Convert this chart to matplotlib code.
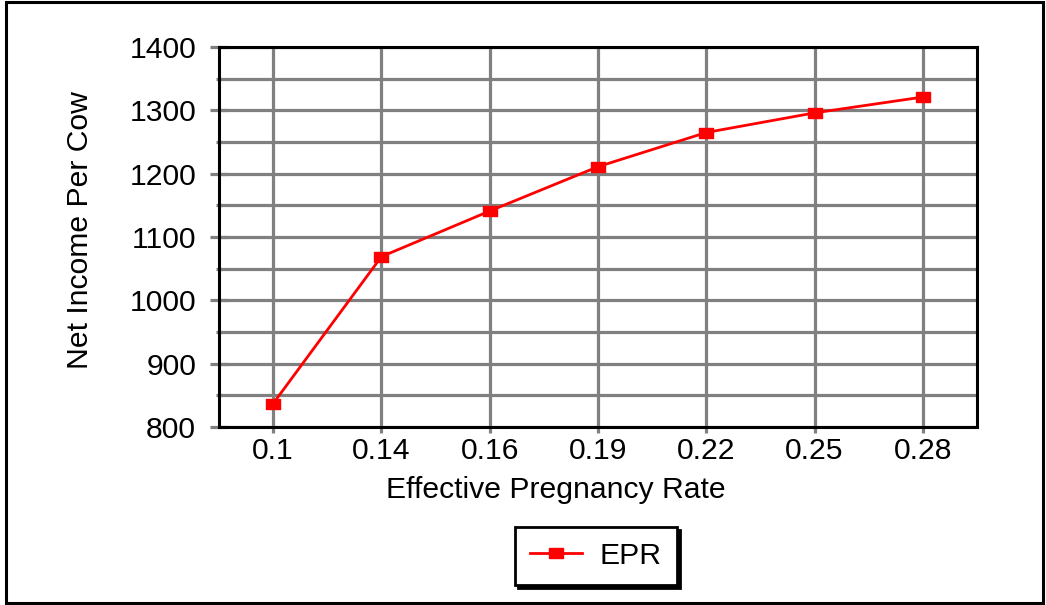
import matplotlib
matplotlib.use("Agg")
import matplotlib.pyplot as plt
from matplotlib.patches import Rectangle
from matplotlib.ticker import MultipleLocator

plt.rcParams['font.family'] = ['Liberation Sans', 'DejaVu Sans']

# data
rates = ['0.1', '0.14', '0.16', '0.19', '0.22', '0.25', '0.28']
income = [837, 1069, 1141, 1211, 1265, 1296, 1321]

fs = 21.7

fig = plt.figure(figsize=(10.46, 6.05), dpi=100)
ax = fig.add_axes([219/1046, 1-427/605, 758/1046, 380/605])

xpos = list(range(len(rates)))
rect = [(-1.5, -1), (1.5, -1), (1.5, 1), (-1.5, 1), (-1.5, -1)]
ax.plot(xpos, income, color='#ff0000', lw=2.0, marker=rect, ms=10.5,
        mec='#ff0000', mfc='#ff0000', label='EPR', zorder=5)

ax.set_xlim(-0.5, 6.5)
ax.set_ylim(800, 1400)
ax.set_xticks(xpos)
ax.set_xticklabels(rates)
ax.yaxis.set_major_locator(MultipleLocator(100))
ax.yaxis.set_minor_locator(MultipleLocator(50))

grey = '#808080'
ax.grid(True, which='both', color=grey, lw=2.3, zorder=1)
ax.set_axisbelow(True)
ax.tick_params(axis='x', which='major', direction='out', length=4.5, width=2.3,
               color=grey, labelsize=fs, pad=3)
ax.tick_params(axis='y', which='major', direction='inout', length=13, width=2.3,
               color=grey, labelsize=fs, pad=10)
ax.tick_params(axis='y', which='minor', direction='inout', length=5, width=2.3,
               color=grey)
for s in ax.spines.values():
    s.set_linewidth(2.2)
    s.set_color('black')
    s.set_zorder(3)

ax.set_ylabel('Net Income Per Cow', fontsize=fs)
ax.yaxis.set_label_coords(-0.165, 0.518)
fig.text(556/1046, 1-498/605, 'Effective Pregnancy Rate', fontsize=fs,
         ha='center', va='baseline')

leg = ax.legend(loc='center', bbox_to_anchor=(596/1046, 1-556/605),
                bbox_transform=fig.transFigure, fontsize=fs, frameon=True,
                fancybox=False, shadow={'color': 'black', 'alpha': 1},
                edgecolor='black', handlelength=1.7, handletextpad=0.6,
                borderpad=0.5, borderaxespad=0)
leg.get_frame().set_linewidth(2.0)

# outer border of the picture
fig.patches.append(Rectangle((5.5/1046, 2.5/605), 1037/1046, 601/605,
                             transform=fig.transFigure, fill=False,
                             edgecolor='black', lw=2.2))

fig.savefig('out.png', dpi=100)
